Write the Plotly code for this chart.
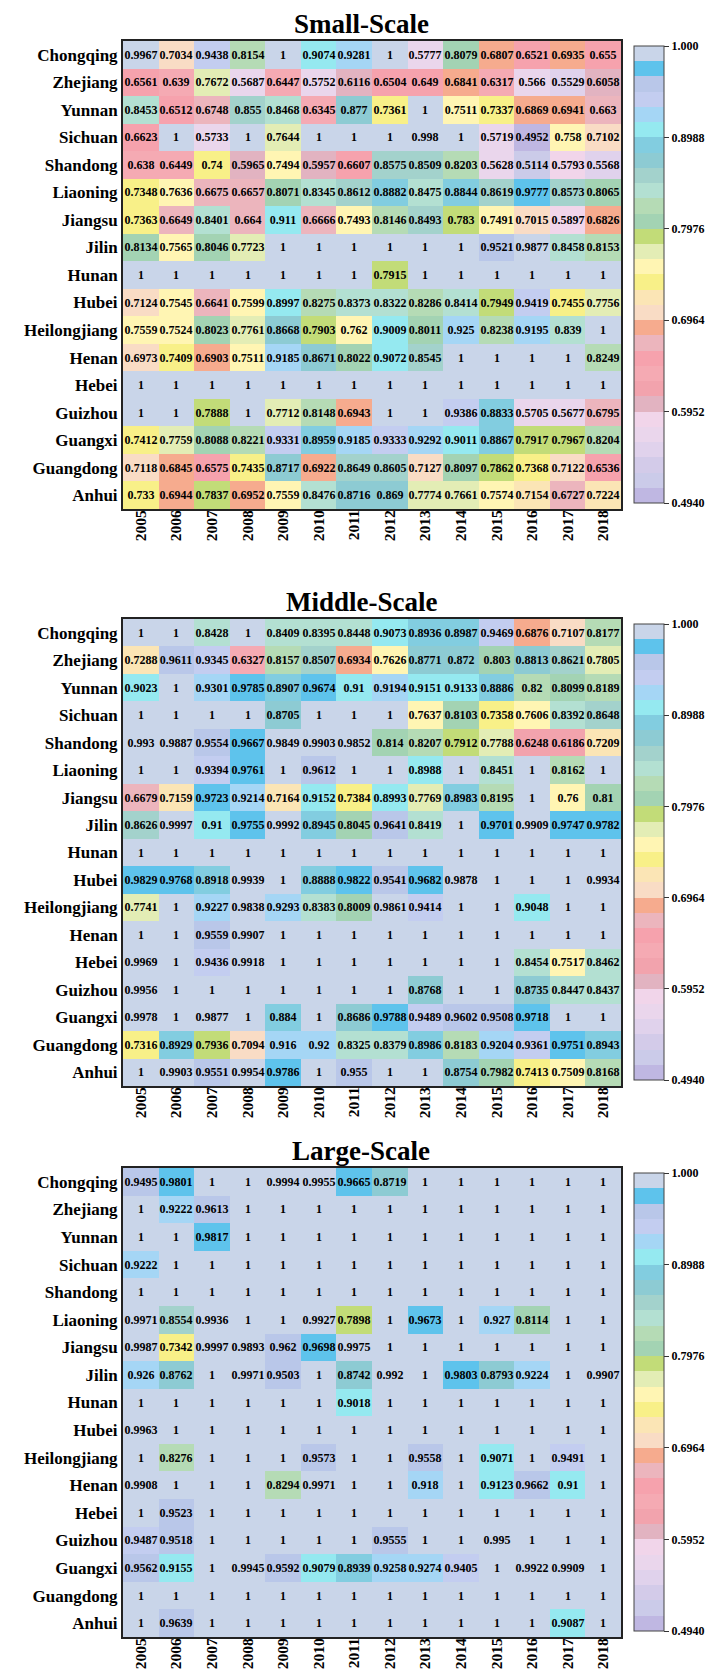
import plotly.graph_objects as go

W, H = 713, 1673

years = [str(y) for y in range(2005, 2019)]
provinces = ["Chongqing", "Zhejiang", "Yunnan", "Sichuan", "Shandong", "Liaoning",
             "Jiangsu", "Jilin", "Hunan", "Hubei", "Heilongjiang", "Henan", "Hebei",
             "Guizhou", "Guangxi", "Guangdong", "Anhui"]

small_scale = [
    [0.9967, 0.7034, 0.9438, 0.8154, 1, 0.9074, 0.9281, 1, 0.5777, 0.8079, 0.6807, 0.6521, 0.6935, 0.655],
    [0.6561, 0.639, 0.7672, 0.5687, 0.6447, 0.5752, 0.6116, 0.6504, 0.649, 0.6841, 0.6317, 0.566, 0.5529, 0.6058],
    [0.8453, 0.6512, 0.6748, 0.855, 0.8468, 0.6345, 0.877, 0.7361, 1, 0.7511, 0.7337, 0.6869, 0.6941, 0.663],
    [0.6623, 1, 0.5733, 1, 0.7644, 1, 1, 1, 0.998, 1, 0.5719, 0.4952, 0.758, 0.7102],
    [0.638, 0.6449, 0.74, 0.5965, 0.7494, 0.5957, 0.6607, 0.8575, 0.8509, 0.8203, 0.5628, 0.5114, 0.5793, 0.5568],
    [0.7348, 0.7636, 0.6675, 0.6657, 0.8071, 0.8345, 0.8612, 0.8882, 0.8475, 0.8844, 0.8619, 0.9777, 0.8573, 0.8065],
    [0.7363, 0.6649, 0.8401, 0.664, 0.911, 0.6666, 0.7493, 0.8146, 0.8493, 0.783, 0.7491, 0.7015, 0.5897, 0.6826],
    [0.8134, 0.7565, 0.8046, 0.7723, 1, 1, 1, 1, 1, 1, 0.9521, 0.9877, 0.8458, 0.8153],
    [1, 1, 1, 1, 1, 1, 1, 0.7915, 1, 1, 1, 1, 1, 1],
    [0.7124, 0.7545, 0.6641, 0.7599, 0.8997, 0.8275, 0.8373, 0.8322, 0.8286, 0.8414, 0.7949, 0.9419, 0.7455, 0.7756],
    [0.7559, 0.7524, 0.8023, 0.7761, 0.8668, 0.7903, 0.762, 0.9009, 0.8011, 0.925, 0.8238, 0.9195, 0.839, 1],
    [0.6973, 0.7409, 0.6903, 0.7511, 0.9185, 0.8671, 0.8022, 0.9072, 0.8545, 1, 1, 1, 1, 0.8249],
    [1, 1, 1, 1, 1, 1, 1, 1, 1, 1, 1, 1, 1, 1],
    [1, 1, 0.7888, 1, 0.7712, 0.8148, 0.6943, 1, 1, 0.9386, 0.8833, 0.5705, 0.5677, 0.6795],
    [0.7412, 0.7759, 0.8088, 0.8221, 0.9331, 0.8959, 0.9185, 0.9333, 0.9292, 0.9011, 0.8867, 0.7917, 0.7967, 0.8204],
    [0.7118, 0.6845, 0.6575, 0.7435, 0.8717, 0.6922, 0.8649, 0.8605, 0.7127, 0.8097, 0.7862, 0.7368, 0.7122, 0.6536],
    [0.733, 0.6944, 0.7837, 0.6952, 0.7559, 0.8476, 0.8716, 0.869, 0.7774, 0.7661, 0.7574, 0.7154, 0.6727, 0.7224],
]

middle_scale = [
    [1, 1, 0.8428, 1, 0.8409, 0.8395, 0.8448, 0.9073, 0.8936, 0.8987, 0.9469, 0.6876, 0.7107, 0.8177],
    [0.7288, 0.9611, 0.9345, 0.6327, 0.8157, 0.8507, 0.6934, 0.7626, 0.8771, 0.872, 0.803, 0.8813, 0.8621, 0.7805],
    [0.9023, 1, 0.9301, 0.9785, 0.8907, 0.9674, 0.91, 0.9194, 0.9151, 0.9133, 0.8886, 0.82, 0.8099, 0.8189],
    [1, 1, 1, 1, 0.8705, 1, 1, 1, 0.7637, 0.8103, 0.7358, 0.7606, 0.8392, 0.8648],
    [0.993, 0.9887, 0.9554, 0.9667, 0.9849, 0.9903, 0.9852, 0.814, 0.8207, 0.7912, 0.7788, 0.6248, 0.6186, 0.7209],
    [1, 1, 0.9394, 0.9761, 1, 0.9612, 1, 1, 0.8988, 1, 0.8451, 1, 0.8162, 1],
    [0.6679, 0.7159, 0.9723, 0.9214, 0.7164, 0.9152, 0.7384, 0.8993, 0.7769, 0.8983, 0.8195, 1, 0.76, 0.81],
    [0.8626, 0.9997, 0.91, 0.9755, 0.9992, 0.8945, 0.8045, 0.9641, 0.8419, 1, 0.9701, 0.9909, 0.9747, 0.9782],
    [1, 1, 1, 1, 1, 1, 1, 1, 1, 1, 1, 1, 1, 1],
    [0.9829, 0.9768, 0.8918, 0.9939, 1, 0.8888, 0.9822, 0.9541, 0.9682, 0.9878, 1, 1, 1, 0.9934],
    [0.7741, 1, 0.9227, 0.9838, 0.9293, 0.8383, 0.8009, 0.9861, 0.9414, 1, 1, 0.9048, 1, 1],
    [1, 1, 0.9559, 0.9907, 1, 1, 1, 1, 1, 1, 1, 1, 1, 1],
    [0.9969, 1, 0.9436, 0.9918, 1, 1, 1, 1, 1, 1, 1, 0.8454, 0.7517, 0.8462],
    [0.9956, 1, 1, 1, 1, 1, 1, 1, 0.8768, 1, 1, 0.8735, 0.8447, 0.8437],
    [0.9978, 1, 0.9877, 1, 0.884, 1, 0.8686, 0.9788, 0.9489, 0.9602, 0.9508, 0.9718, 1, 1],
    [0.7316, 0.8929, 0.7936, 0.7094, 0.916, 0.92, 0.8325, 0.8379, 0.8986, 0.8183, 0.9204, 0.9361, 0.9751, 0.8943],
    [1, 0.9903, 0.9551, 0.9954, 0.9786, 1, 0.955, 1, 1, 0.8754, 0.7982, 0.7413, 0.7509, 0.8168],
]

large_scale = [
    [0.9495, 0.9801, 1, 1, 0.9994, 0.9955, 0.9665, 0.8719, 1, 1, 1, 1, 1, 1],
    [1, 0.9222, 0.9613, 1, 1, 1, 1, 1, 1, 1, 1, 1, 1, 1],
    [1, 1, 0.9817, 1, 1, 1, 1, 1, 1, 1, 1, 1, 1, 1],
    [0.9222, 1, 1, 1, 1, 1, 1, 1, 1, 1, 1, 1, 1, 1],
    [1, 1, 1, 1, 1, 1, 1, 1, 1, 1, 1, 1, 1, 1],
    [0.9971, 0.8554, 0.9936, 1, 1, 0.9927, 0.7898, 1, 0.9673, 1, 0.927, 0.8114, 1, 1],
    [0.9987, 0.7342, 0.9997, 0.9893, 0.962, 0.9698, 0.9975, 1, 1, 1, 1, 1, 1, 1],
    [0.926, 0.8762, 1, 0.9971, 0.9503, 1, 0.8742, 0.992, 1, 0.9803, 0.8793, 0.9224, 1, 0.9907],
    [1, 1, 1, 1, 1, 1, 0.9018, 1, 1, 1, 1, 1, 1, 1],
    [0.9963, 1, 1, 1, 1, 1, 1, 1, 1, 1, 1, 1, 1, 1],
    [1, 0.8276, 1, 1, 1, 0.9573, 1, 1, 0.9558, 1, 0.9071, 1, 0.9491, 1],
    [0.9908, 1, 1, 1, 0.8294, 0.9971, 1, 1, 0.918, 1, 0.9123, 0.9662, 0.91, 1],
    [1, 0.9523, 1, 1, 1, 1, 1, 1, 1, 1, 1, 1, 1, 1],
    [0.9487, 0.9518, 1, 1, 1, 1, 1, 0.9555, 1, 1, 0.995, 1, 1, 1],
    [0.9562, 0.9155, 1, 0.9945, 0.9592, 0.9079, 0.8939, 0.9258, 0.9274, 0.9405, 1, 0.9922, 0.9909, 1],
    [1, 1, 1, 1, 1, 1, 1, 1, 1, 1, 1, 1, 1, 1],
    [1, 0.9639, 1, 1, 1, 1, 1, 1, 1, 1, 1, 1, 0.9087, 1],
]

titles = ["Small-Scale", "Middle-Scale", "Large-Scale"]

# discrete colour bands, from the lowest value (bottom) to the highest (top)
band_colors = [
    "#bfb7e2", "#cbcbe9", "#d3cbe9", "#e0d2ec", "#ead6ec", "#f1d5ea",
    "#e2b3c1", "#f2a3ad", "#f5aab3", "#f6a2ad", "#ecb5bd", "#f6ab8e",
    "#f9dcc5", "#fbe5b5", "#f8f088", "#fff5b3", "#e3edb5", "#c2dc78",
    "#a3d3b3", "#b5dbb5", "#b3e0d2", "#a3d2cc", "#8dcbd3", "#82cde0",
    "#95e9f0", "#a5d6f5", "#c3cdf0", "#b9c7e9", "#5ec3ec", "#c9d5e9",
]
zmin, zmax = 0.494, 1.0
cbar_tickvals = [0.494, 0.5952, 0.6964, 0.7976, 0.8988, 1.0]
cbar_ticktext = ["0.4940", "0.5952", "0.6964", "0.7976", "0.8988", "1.000"]

n = len(band_colors)
colorscale = []
for i, c in enumerate(band_colors):
    colorscale.append([i / n, c])
    colorscale.append([(i + 1) / n, c])

FONT = "Liberation Serif"

# layout in pixels
grid_x0, grid_x1 = 115, 613
panels = [(33, 501), (611, 1078), (1160, 1629)]
title_x = 353
cbar_x = 626


def fmt(v):
    return f"{v:g}"


fig = go.Figure()
datasets = [small_scale, middle_scale, large_scale]
layout_updates = {}
for i, (data, (top, bot)) in enumerate(zip(datasets, panels)):
    k = i + 1
    xa = "x" if k == 1 else f"x{k}"
    ya = "y" if k == 1 else f"y{k}"
    ca = "coloraxis" if k == 1 else f"coloraxis{k}"
    fig.add_trace(go.Heatmap(
        z=data, x=years, y=provinces,
        text=[[fmt(v) for v in row] for row in data],
        texttemplate="%{text}",
        textfont=dict(family=FONT, size=12, color="black", weight="bold"),
        coloraxis=ca, xaxis=xa, yaxis=ya, hoverinfo="skip",
    ))
    xkey = "xaxis" if k == 1 else f"xaxis{k}"
    ykey = "yaxis" if k == 1 else f"yaxis{k}"
    layout_updates[xkey] = dict(
        domain=[grid_x0 / W, grid_x1 / W], anchor=ya, type="category",
        tickangle=-90, tickfont=dict(family=FONT, size=15.5, color="black", weight="bold"),
        ticklabelstandoff=-7,
        showline=True, mirror=True, linecolor="#222", linewidth=2,
        ticks="", showgrid=False, zeroline=False,
    )
    layout_updates[ykey] = dict(
        domain=[1 - bot / H, 1 - top / H], anchor=xa, type="category",
        autorange="reversed",
        tickfont=dict(family=FONT, size=17, color="black", weight="bold"),
        showline=True, mirror=True, linecolor="#222", linewidth=2,
        ticks="", showgrid=False, zeroline=False,
    )
    layout_updates[ca] = dict(
        colorscale=colorscale, cmin=zmin, cmax=zmax,
        colorbar=dict(
            x=cbar_x / W, xanchor="left", xref="paper",
            y=1 - (top + 5) / H, yanchor="top", yref="paper",
            len=(bot - top - 11), lenmode="pixels",
            thickness=30, thicknessmode="pixels",
            tickmode="array", tickvals=cbar_tickvals, ticktext=cbar_ticktext,
            ticks="outside", ticklen=5, tickcolor="#333", tickwidth=1,
            tickfont=dict(family=FONT, size=12, color="black", weight="bold"),
            outlinewidth=1, outlinecolor="#444", xpad=0, ypad=0,
        ),
    )
    fig.add_annotation(
        x=title_x / W, y=1 - top / H, xref="paper", yref="paper",
        text=titles[i], showarrow=False, xanchor="center", yanchor="bottom",
        font=dict(family=FONT, size=27, color="black", weight="bold"),
    )

fig.update_layout(
    width=W, height=H, margin=dict(l=0, r=0, t=0, b=0),
    paper_bgcolor="white", plot_bgcolor="white", showlegend=False,
    **layout_updates,
)

fig.write_html("out.html")
